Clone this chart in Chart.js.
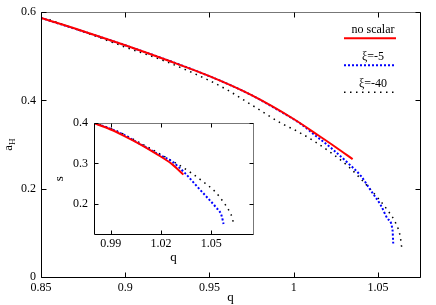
<!DOCTYPE html>
<html>
<head>
<meta charset="utf-8">
<script src="https://cdn.jsdelivr.net/npm/chart.js@4.4.0/dist/chart.umd.min.js"></script>
<style>
  html, body { margin: 0; padding: 0; background: #fff; }
  #wrap { position: relative; width: 436px; height: 305px; }
  #mainChart { position: absolute; left: 0; top: 0; }
  #insetChart { position: absolute; left: 50px; top: 110px; }
</style>
</head>
<body>
<div id="wrap">
  <canvas id="mainChart" width="436" height="305"></canvas>
  <canvas id="insetChart" width="210" height="158"></canvas>
</div>
<script>
// series labels
const seriesLabels = ['no scalar', 'ξ=-5', 'ξ=-40'];

// main plot: a_H vs q
const redQ = [0.85, 0.875, 0.90, 0.925, 0.95, 0.975, 1.0, 1.015, 1.025, 1.035];
const redA = [0.587, 0.557, 0.525, 0.491, 0.455, 0.412, 0.358, 0.320, 0.294, 0.267];

const blueQ = [0.85, 0.90, 0.95, 0.975, 0.9962, 1.0042, 1.0121, 1.022, 1.032, 1.0399, 1.0458, 1.0518, 1.0558, 1.0587, 1.0591];
const blueA = [0.587, 0.525, 0.455, 0.412, 0.366, 0.347, 0.323, 0.293, 0.259, 0.229, 0.196, 0.162, 0.132, 0.106, 0.076];

const blackQ = [0.855, 0.875, 0.90, 0.925, 0.95, 0.9605, 0.975, 0.9923, 1.0022, 1.0121, 1.022, 1.032, 1.0419, 1.0498, 1.0558, 1.0607, 1.0633, 1.0641];
const blackA = [0.583, 0.556, 0.521, 0.487, 0.445, 0.424, 0.390, 0.349, 0.330, 0.308, 0.282, 0.252, 0.214, 0.180, 0.151, 0.121, 0.091, 0.068];

const xTicks = [0.85, 0.9, 0.95, 1, 1.05];
const yTicks = [0, 0.2, 0.4, 0.6];

// inset: s vs q
const redQi = [0.98, 0.9876, 0.9973, 1.0071, 1.0168, 1.0266, 1.0334];
const redSi = [0.400, 0.3886, 0.370, 0.3488, 0.325, 0.2984, 0.2724];

const blueQi = [0.98, 0.9935, 1.0071, 1.0188, 1.0266, 1.0344, 1.0422, 1.048, 1.0529, 1.0562, 1.0574];
const blueSi = [0.401, 0.380, 0.3495, 0.322, 0.305, 0.276, 0.240, 0.214, 0.191, 0.171, 0.150];

const blackQi = [0.98, 0.9935, 1.0071, 1.0188, 1.0305, 1.0382, 1.0461, 1.0519, 1.0568, 1.0607, 1.0626, 1.0636];
const blackSi = [0.401, 0.381, 0.352, 0.325, 0.297, 0.2763, 0.252, 0.232, 0.2073, 0.183, 0.165, 0.146];

const xTicksInset = [0.99, 1.02, 1.05];
const yTicksInset = [0.2, 0.3, 0.4];

const serif = "'Liberation Serif', 'DejaVu Serif', serif";

function pts(xs, ys) {
    return xs.map((x, i) => ({ x: x, y: ys[i] }));
}

function makeDatasets(rq, ra, bq, ba, kq, ka) {
    return [
        { label: seriesLabels[0], data: pts(rq, ra), borderColor: '#ff0000', borderWidth: 2, borderDash: [] },
        { label: seriesLabels[1], data: pts(bq, ba), borderColor: '#0000ff', borderWidth: 2, borderDash: [2, 2] },
        { label: seriesLabels[2], data: pts(kq, ka), borderColor: '#000000', borderWidth: 1.5, borderDash: [1.5, 4.5] }
    ].map(d => Object.assign(d, { showLine: true, pointRadius: 0, fill: false, cubicInterpolationMode: 'monotone' }));
}

// gnuplot-like frame, inward ticks, titles and legend
const gnuFrame = {
    id: 'gnuFrame',
    beforeDraw(chart, args, opts) {
        if (!opts.fillArea) return;
        const a = chart.chartArea, c = chart.ctx;
        c.save();
        c.fillStyle = '#fff';
        c.fillRect(a.left, a.top, a.right - a.left, a.bottom - a.top);
        c.restore();
    },
    afterDraw(chart, args, opts) {
        const a = chart.chartArea, c = chart.ctx;
        const L = Math.round(a.left) + 0.5, R = Math.round(a.right) + 0.5;
        const T = Math.round(a.top) + 0.5, B = Math.round(a.bottom) + 0.5;
        const len = opts.tickLen;
        c.save();
        c.lineWidth = 1;
        // top and right a bit lighter, like the reference
        c.strokeStyle = '#777';
        c.beginPath();
        c.moveTo(L, T); c.lineTo(R, T);
        c.stroke();
        c.strokeStyle = opts.rightColor;
        c.beginPath();
        c.moveTo(R, T); c.lineTo(R, B);
        c.stroke();
        c.strokeStyle = '#000';
        c.beginPath();
        c.moveTo(L, T); c.lineTo(L, B); c.lineTo(R, B);
        c.stroke();

        // inward ticks, mirrored
        const xs = chart.scales.x, ys = chart.scales.y;
        c.beginPath();
        xs.ticks.forEach(t => {
            const px = Math.round(xs.getPixelForValue(t.value)) + 0.5;
            c.moveTo(px, B); c.lineTo(px, B - len);
            c.moveTo(px, T); c.lineTo(px, T + len);
        });
        ys.ticks.forEach(t => {
            const py = Math.round(ys.getPixelForValue(t.value)) + 0.5;
            c.moveTo(L, py); c.lineTo(L + len, py);
            c.moveTo(R, py); c.lineTo(R - len, py);
        });
        c.stroke();

        // axis titles
        c.fillStyle = '#000';
        c.font = '13px ' + serif;
        c.textAlign = 'center';
        c.textBaseline = 'middle';
        c.fillText(opts.xTitle, (a.left + a.right) / 2, a.bottom + opts.xTitleOffset);
        c.save();
        c.translate(opts.yTitleX, (a.top + a.bottom) / 2);
        c.rotate(-Math.PI / 2);
        if (opts.yTitleSub) {
            const w1 = c.measureText(opts.yTitle).width;
            c.font = '9px ' + serif;
            const w2 = c.measureText(opts.yTitleSub).width;
            c.font = '13px ' + serif;
            c.textAlign = 'left';
            c.fillText(opts.yTitle, -(w1 + w2) / 2, 0);
            c.font = '9px ' + serif;
            c.fillText(opts.yTitleSub, -(w1 + w2) / 2 + w1, 4);
        } else {
            c.fillText(opts.yTitle, 0, 0);
        }
        c.restore();

        // legend: label text above a line sample
        if (opts.legend) {
            const lg = opts.legend;
            chart.data.datasets.forEach((ds, i) => {
                const ty = a.top + lg.top + i * lg.step;
                c.font = '12px ' + serif;
                c.fillStyle = '#000';
                c.textAlign = 'center';
                c.textBaseline = 'middle';
                c.fillText(ds.label, a.right - lg.right - lg.len / 2 + 3, ty);
                c.strokeStyle = ds.borderColor;
                c.lineWidth = ds.borderWidth;
                c.setLineDash(ds.borderDash);
                c.beginPath();
                c.moveTo(a.right - lg.right - lg.len, ty + lg.gap);
                c.lineTo(a.right - lg.right, ty + lg.gap);
                c.stroke();
                c.setLineDash([]);
            });
        }
        c.restore();
    }
};

function axis(min, max, tickVals, fitSize, horizontal, pad) {
    return {
        type: 'linear',
        min: min,
        max: max,
        grid: { display: false, drawTicks: false },
        border: { display: false },
        afterBuildTicks: s => { s.ticks = tickVals.map(v => ({ value: v })); },
        afterFit: s => { if (horizontal) { s.height = fitSize; } else { s.width = fitSize; } },
        ticks: {
            color: '#000',
            font: { family: serif, size: 12 },
            padding: pad,
            autoSkip: false,
            maxRotation: 0,
            callback: v => String(v)
        }
    };
}

new Chart(document.getElementById('mainChart'), {
    type: 'scatter',
    data: { datasets: makeDatasets(redQ, redA, blueQ, blueA, blackQ, blackA) },
    options: {
        responsive: false,
        animation: false,
        devicePixelRatio: 1,
        layout: { padding: { left: 0, right: 16, top: 10, bottom: 0 } },
        plugins: {
            legend: { display: false },
            tooltip: { enabled: false },
            gnuFrame: {
                tickLen: 5,
                rightColor: '#000',
                xTitle: 'q', xTitleOffset: 21,
                yTitle: 'a', yTitleSub: 'H', yTitleX: 9,
                legend: { top: 18, step: 27, right: 24, len: 52, gap: 8 }
            }
        },
        scales: {
            x: axis(0.85, 1.075, xTicks, 28, true, 4),
            y: axis(0, 0.6, yTicks, 41, false, 5)
        }
    },
    plugins: [gnuFrame]
});

new Chart(document.getElementById('insetChart'), {
    type: 'scatter',
    data: { datasets: makeDatasets(redQi, redSi, blueQi, blueSi, blackQi, blackSi) },
    options: {
        responsive: false,
        animation: false,
        devicePixelRatio: 1,
        layout: { padding: { left: 0, right: 7, top: 11, bottom: 0 } },
        plugins: {
            legend: { display: false },
            tooltip: { enabled: false },
            gnuFrame: {
                fillArea: true,
                tickLen: 4,
                rightColor: '#777',
                xTitle: 'q', xTitleOffset: 24,
                yTitle: 's', yTitleX: 10
            }
        },
        scales: {
            x: axis(0.98, 1.075, xTicksInset, 34, true, 3),
            y: axis(0.125, 0.4, yTicksInset, 44, false, 6)
        }
    },
    plugins: [gnuFrame]
});
</script>
</body>
</html>
